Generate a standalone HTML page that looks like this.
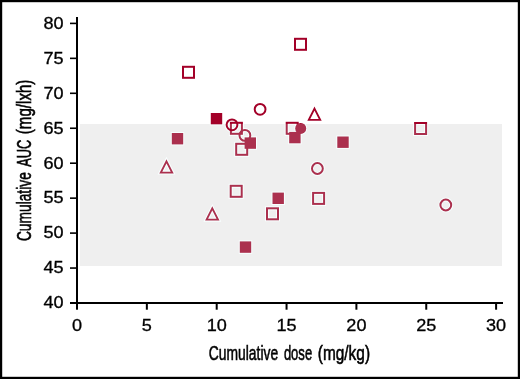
<!DOCTYPE html>
<html><head><meta charset="utf-8"><style>
html,body{margin:0;padding:0;background:#fff;}
body{width:520px;height:379px;overflow:hidden;position:relative;}
svg{position:absolute;left:0;top:0;display:block;}
.txt{will-change:transform;}
.tk{font-family:"Liberation Sans",sans-serif;font-size:16px;fill:#000;stroke:#000;stroke-width:0.3px;}
.ti{font-family:"Liberation Sans",sans-serif;font-size:21px;fill:#000;stroke:#000;stroke-width:0.6px;}
</style></head><body>
<svg width="520" height="379" viewBox="0 0 520 379">
<rect x="0" y="0" width="520" height="379" fill="#fff"/>
<defs>
<clipPath id="inb"><rect x="80" y="124" width="422" height="142"/></clipPath>
<clipPath id="outb"><path d="M0 0H520V379H0Z M80 124V266H502V124Z" clip-rule="evenodd"/></clipPath>
<g id="mk">
<rect x="183.00" y="66.80" width="11" height="11" fill="none" stroke="currentColor" stroke-width="2"/>
<rect x="295.00" y="38.80" width="11" height="11" fill="none" stroke="currentColor" stroke-width="2"/>
<circle cx="260.10" cy="109.30" r="5.4" fill="none" stroke="currentColor" stroke-width="2"/>
<polygon points="314.50,108.60 320.20,119.85 308.80,119.85" fill="none" stroke="currentColor" stroke-width="1.85" stroke-linejoin="miter"/>
<rect x="210.80" y="113.00" width="11.4" height="11.4" fill="currentColor" />
<rect x="230.90" y="122.80" width="11" height="11" fill="none" stroke="currentColor" stroke-width="2"/>
<rect x="236.20" y="143.80" width="11" height="11" fill="none" stroke="currentColor" stroke-width="2"/>
<circle cx="244.90" cy="135.40" r="5.4" fill="none" stroke="currentColor" stroke-width="2"/>
<rect x="244.60" y="137.40" width="11.4" height="11.4" fill="currentColor" />
<rect x="171.80" y="133.00" width="11.4" height="11.4" fill="currentColor" />
<rect x="286.70" y="122.80" width="11" height="11" fill="none" stroke="currentColor" stroke-width="2"/>
<circle cx="300.70" cy="128.40" r="5.5" fill="currentColor" />
<rect x="289.20" y="131.90" width="11.4" height="11.4" fill="currentColor" />
<rect x="337.30" y="136.50" width="11.4" height="11.4" fill="currentColor" />
<rect x="415.10" y="123.00" width="11" height="11" fill="none" stroke="currentColor" stroke-width="2"/>
<circle cx="317.40" cy="168.50" r="5.4" fill="none" stroke="currentColor" stroke-width="2"/>
<polygon points="166.50,161.30 172.20,172.55 160.80,172.55" fill="none" stroke="currentColor" stroke-width="1.85" stroke-linejoin="miter"/>
<rect x="230.70" y="185.80" width="11" height="11" fill="none" stroke="currentColor" stroke-width="2"/>
<rect x="272.50" y="192.60" width="11.4" height="11.4" fill="currentColor" />
<rect x="313.10" y="192.90" width="11" height="11" fill="none" stroke="currentColor" stroke-width="2"/>
<circle cx="445.80" cy="205.00" r="5.4" fill="none" stroke="currentColor" stroke-width="2"/>
<rect x="267.00" y="208.30" width="11" height="11" fill="none" stroke="currentColor" stroke-width="2"/>
<polygon points="212.30,208.40 218.00,219.65 206.60,219.65" fill="none" stroke="currentColor" stroke-width="1.85" stroke-linejoin="miter"/>
<rect x="239.80" y="241.40" width="11.4" height="11.4" fill="currentColor" />
</g>
</defs>
<rect x="80" y="124" width="422" height="142" fill="#efefef"/>
<g clip-path="url(#inb)">
<rect x="183.00" y="66.80" width="11" height="11" fill="none" stroke="#f8ffff" stroke-width="4"/>
<rect x="295.00" y="38.80" width="11" height="11" fill="none" stroke="#f8ffff" stroke-width="4"/>
<circle cx="260.10" cy="109.30" r="5.4" fill="none" stroke="#f8ffff" stroke-width="4"/>
<polygon points="314.50,108.60 320.20,119.85 308.80,119.85" fill="none" stroke="#f8ffff" stroke-width="4" stroke-linejoin="miter"/>
<rect x="210.80" y="113.00" width="11.4" height="11.4" fill="#f8ffff" stroke="#f8ffff" stroke-width="2"/>
<rect x="230.90" y="122.80" width="11" height="11" fill="none" stroke="#f8ffff" stroke-width="4"/>
<rect x="236.20" y="143.80" width="11" height="11" fill="none" stroke="#f8ffff" stroke-width="4"/>
<circle cx="244.90" cy="135.40" r="5.4" fill="none" stroke="#f8ffff" stroke-width="4"/>
<rect x="244.60" y="137.40" width="11.4" height="11.4" fill="#f8ffff" stroke="#f8ffff" stroke-width="2"/>
<rect x="171.80" y="133.00" width="11.4" height="11.4" fill="#f8ffff" stroke="#f8ffff" stroke-width="2"/>
<rect x="286.70" y="122.80" width="11" height="11" fill="none" stroke="#f8ffff" stroke-width="4"/>
<circle cx="300.70" cy="128.40" r="5.5" fill="#f8ffff" stroke="#f8ffff" stroke-width="2"/>
<rect x="289.20" y="131.90" width="11.4" height="11.4" fill="#f8ffff" stroke="#f8ffff" stroke-width="2"/>
<rect x="337.30" y="136.50" width="11.4" height="11.4" fill="#f8ffff" stroke="#f8ffff" stroke-width="2"/>
<rect x="415.10" y="123.00" width="11" height="11" fill="none" stroke="#f8ffff" stroke-width="4"/>
<circle cx="317.40" cy="168.50" r="5.4" fill="none" stroke="#f8ffff" stroke-width="4"/>
<polygon points="166.50,161.30 172.20,172.55 160.80,172.55" fill="none" stroke="#f8ffff" stroke-width="4" stroke-linejoin="miter"/>
<rect x="230.70" y="185.80" width="11" height="11" fill="none" stroke="#f8ffff" stroke-width="4"/>
<rect x="272.50" y="192.60" width="11.4" height="11.4" fill="#f8ffff" stroke="#f8ffff" stroke-width="2"/>
<rect x="313.10" y="192.90" width="11" height="11" fill="none" stroke="#f8ffff" stroke-width="4"/>
<circle cx="445.80" cy="205.00" r="5.4" fill="none" stroke="#f8ffff" stroke-width="4"/>
<rect x="267.00" y="208.30" width="11" height="11" fill="none" stroke="#f8ffff" stroke-width="4"/>
<polygon points="212.30,208.40 218.00,219.65 206.60,219.65" fill="none" stroke="#f8ffff" stroke-width="4" stroke-linejoin="miter"/>
<rect x="239.80" y="241.40" width="11.4" height="11.4" fill="#f8ffff" stroke="#f8ffff" stroke-width="2"/>
<circle cx="232.00" cy="124.80" r="5.4" fill="none" stroke="#f8ffff" stroke-width="4"/>
</g>
<use href="#mk" clip-path="url(#outb)" style="color:#a30028"/>
<use href="#mk" clip-path="url(#inb)" style="color:#ab304e"/>
<g style="color:#a30028"><circle cx="232.00" cy="124.80" r="5.4" fill="none" stroke="currentColor" stroke-width="2"/></g>


<rect x="76" y="17" width="2" height="292.7" fill="#000"/>
<rect x="70" y="302" width="433" height="2" fill="#000"/>
<rect x="70" y="267.25" width="6" height="1.6" fill="#000"/>
<rect x="70" y="232.30" width="6" height="1.6" fill="#000"/>
<rect x="70" y="197.35" width="6" height="1.6" fill="#000"/>
<rect x="70" y="162.40" width="6" height="1.6" fill="#000"/>
<rect x="70" y="127.45" width="6" height="1.6" fill="#000"/>
<rect x="70" y="92.50" width="6" height="1.6" fill="#000"/>
<rect x="70" y="57.55" width="6" height="1.6" fill="#000"/>
<rect x="70" y="22.60" width="6" height="1.6" fill="#000"/>
<rect x="145.85" y="304" width="2" height="5.7" fill="#000"/>
<rect x="215.70" y="304" width="2" height="5.7" fill="#000"/>
<rect x="285.55" y="304" width="2" height="5.7" fill="#000"/>
<rect x="355.40" y="304" width="2" height="5.7" fill="#000"/>
<rect x="425.25" y="304" width="2" height="5.7" fill="#000"/>
<rect x="495.10" y="304" width="2" height="5.7" fill="#000"/>
</svg>
<svg class="txt" width="520" height="379" viewBox="0 0 520 379">
<text x="0" y="0" transform="translate(63.6,308.33) scale(1.13,1)" text-anchor="end" class="tk">40</text>
<text x="0" y="0" transform="translate(63.6,273.38) scale(1.13,1)" text-anchor="end" class="tk">45</text>
<text x="0" y="0" transform="translate(63.6,238.43) scale(1.13,1)" text-anchor="end" class="tk">50</text>
<text x="0" y="0" transform="translate(63.6,203.48) scale(1.13,1)" text-anchor="end" class="tk">55</text>
<text x="0" y="0" transform="translate(63.6,168.53) scale(1.13,1)" text-anchor="end" class="tk">60</text>
<text x="0" y="0" transform="translate(63.6,133.58) scale(1.13,1)" text-anchor="end" class="tk">65</text>
<text x="0" y="0" transform="translate(63.6,98.63) scale(1.13,1)" text-anchor="end" class="tk">70</text>
<text x="0" y="0" transform="translate(63.6,63.68) scale(1.13,1)" text-anchor="end" class="tk">75</text>
<text x="0" y="0" transform="translate(63.6,28.73) scale(1.13,1)" text-anchor="end" class="tk">80</text>
<text x="0" y="0" transform="translate(77.00,330.6) scale(1.13,1)" text-anchor="middle" class="tk">0</text>
<text x="0" y="0" transform="translate(146.85,330.6) scale(1.13,1)" text-anchor="middle" class="tk">5</text>
<text x="0" y="0" transform="translate(216.70,330.6) scale(1.13,1)" text-anchor="middle" class="tk">10</text>
<text x="0" y="0" transform="translate(286.55,330.6) scale(1.13,1)" text-anchor="middle" class="tk">15</text>
<text x="0" y="0" transform="translate(356.40,330.6) scale(1.13,1)" text-anchor="middle" class="tk">20</text>
<text x="0" y="0" transform="translate(426.25,330.6) scale(1.13,1)" text-anchor="middle" class="tk">25</text>
<text x="0" y="0" transform="translate(496.10,330.6) scale(1.13,1)" text-anchor="middle" class="tk">30</text>
<text x="0" y="0" transform="translate(208.81,360) scale(0.6602,1)" class="ti">Cumulative</text>
<text x="0" y="0" transform="translate(283.88,360) scale(0.6204,1)" class="ti">dose</text>
<text x="0" y="0" transform="translate(317.77,360) scale(0.7351,1)" class="ti">(mg/kg)</text>
<text x="0" y="0" transform="translate(31.3,241.09) rotate(-90) scale(0.6563,1)" class="ti">Cumulative</text>
<text x="0" y="0" transform="translate(31.3,166.76) rotate(-90) scale(0.6134,1)" class="ti">AUC</text>
<text x="0" y="0" transform="translate(31.3,134.21) rotate(-90) scale(0.7204,1)" class="ti">(mg/lxh)</text>
<rect x="1.1" y="1.1" width="517.8" height="376.8" fill="none" stroke="#000" stroke-width="2.2"/>
</svg>
</body></html>
